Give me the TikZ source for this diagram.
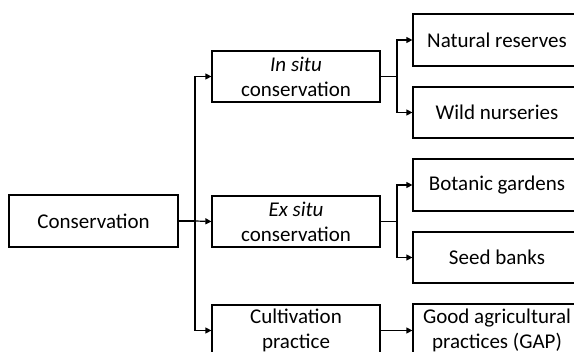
\documentclass[tikz,border=0pt]{standalone}
\usepackage{fontspec}
\setmainfont{Carlito}
\usetikzlibrary{arrows.meta}
\begin{document}
\begin{tikzpicture}[x=1pt,y=-1pt,
  box/.style={draw,line width=1.2pt,rectangle,minimum width=168pt,minimum height=51pt,align=center,inner sep=0pt,font=\fontsize{21}{25}\selectfont},
  conn/.style={line width=1.2pt},
  arr/.style={conn,-{Triangle[length=6pt,width=6pt]}}]
\useasboundingbox (0,0) rectangle (574,352);
\clip (0,0) rectangle (574,352);
\node[box,minimum width=169pt,minimum height=52pt] (cons) at (93.5,221) {Conservation};
\node[box] (insitu) at (296,76.5) {\textit{In situ}\\conservation};
\node[box] (exsitu) at (296,221.5) {\textit{Ex situ}\\conservation};
\node[box] (cult) at (296,330.5) {Cultivation\\practice};
\node[box,minimum height=52pt] (nat) at (497,40) {Natural reserves};
\node[box] (wild) at (497,112.5) {Wild nurseries};
\node[box,minimum height=52pt] (bot) at (497,185) {Botanic gardens};
\node[box] (seed) at (497,257.5) {Seed banks};
\node[box,minimum height=52pt] (gap) at (497,330) {Good agricultural\\practices (GAP)};
\coordinate (j1) at (195,221);
\coordinate (j2) at (397,76.5);
\coordinate (j3) at (397,221.5);
\draw[conn] (cons.east) -- (j1);
\draw[arr] (j1) |- (insitu.west);
\draw[arr] (j1) -- (exsitu.west);
\draw[arr] (j1) |- (cult.west);
\draw[conn] (insitu.east) -- (j2);
\draw[arr] (j2) |- (nat.west);
\draw[arr] (j2) |- (wild.west);
\draw[conn] (exsitu.east) -- (j3);
\draw[arr] (j3) |- (bot.west);
\draw[arr] (j3) |- (seed.west);
\draw[arr] (cult.east) -- (gap.west |- cult.east);
\end{tikzpicture}
\end{document}
